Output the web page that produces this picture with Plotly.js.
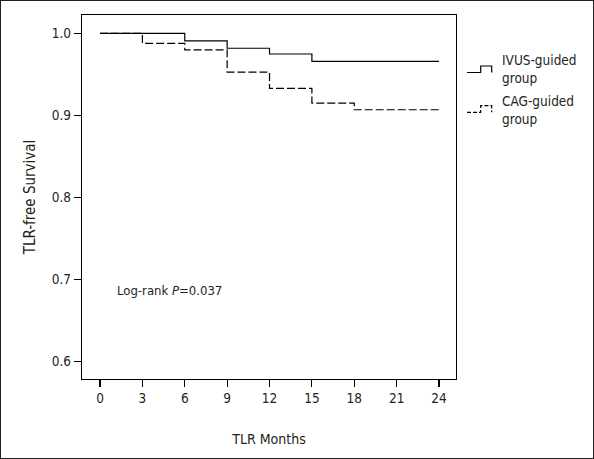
<!DOCTYPE html>
<html><head><meta charset="utf-8">
<script src="https://cdn.plot.ly/plotly-3.0.1.min.js"></script>
<style>
html,body{margin:0;padding:0;background:#fff;}
#chart{width:592px;height:457px;border:1px solid #231f20;}
</style></head>
<body><div id="chart"></div>
<script>
// Kaplan-Meier step data (months, TLR-free survival)
var monthsIVUS = [0, 6, 9, 12, 15, 24];
var survIVUS   = [1.0, 0.991, 0.982, 0.975, 0.966, 0.966];
var monthsCAG  = [0, 3, 6, 9, 12, 15, 18, 24];
var survCAG    = [1.0, 0.988, 0.980, 0.953, 0.933, 0.915, 0.907, 0.907];
var xTicks = [0, 3, 6, 9, 12, 15, 18, 21, 24];
var yTicks = [0.6, 0.7, 0.8, 0.9, 1.0];
var yTickText = ['0.6', '0.7', '0.8', '0.9', '1.0'];
var seriesNames = ['IVUS-guided<br>group', 'CAG-guided<br>group'];

var FONT = '"DejaVu Sans Condensed", "Liberation Sans Narrow", sans-serif';
var TXT = '#231f20';

var W = 592, H = 457, ML = 81, MR = 137, MT = 14, MB = 79;
var PW = W - ML - MR, PH = H - MT - MB;
function px(x){ return (x - ML) / PW; }
function py(y){ return (MT + PH - y) / PH; }

var traces = [
  {x: monthsIVUS, y: survIVUS, mode: 'lines', line: {shape: 'hv', color: '#000', width: 1.2}, name: seriesNames[0], showlegend: false},
  {x: monthsCAG, y: survCAG, mode: 'lines', line: {shape: 'hv', color: '#000', width: 1.2, dash: '8px,3px'}, name: seriesNames[1], showlegend: false}
];

function stepSym(x0, xm, x1, yl, yt, dash){
  var path = 'M' + px(x0) + ',' + py(yl) + ' L' + px(xm) + ',' + py(yl) + ' L' + px(xm) + ',' + py(yt) +
             ' L' + px(x1) + ',' + py(yt) + ' L' + px(x1) + ',' + py(yl);
  return {type: 'path', xref: 'paper', yref: 'paper', path: path,
          line: {color: '#000', width: 1.2, dash: dash}};
}

var layout = {
  width: W, height: H,
  margin: {l: ML, r: MR, t: MT, b: MB},
  paper_bgcolor: '#fff', plot_bgcolor: '#fff',
  font: {family: FONT, size: 13, color: TXT},
  showlegend: false,
  xaxis: {
    range: [-1.274, 25.2], tickvals: xTicks, ticktext: xTicks.map(String),
    ticks: 'outside', ticklen: 7, tickwidth: 1.2, tickcolor: '#000',
    showline: true, linecolor: '#000', linewidth: 1.2, mirror: true,
    showgrid: false, zeroline: false, fixedrange: true,
    tickfont: {family: FONT, size: 13.5, color: TXT},
    title: {text: 'TLR Months', font: {family: FONT, size: 14, color: TXT}, standoff: 28}
  },
  yaxis: {
    range: [0.5789, 1.0225], tickvals: yTicks, ticktext: yTickText,
    ticks: 'outside', ticklen: 7, tickwidth: 1.2, tickcolor: '#000',
    showline: true, linecolor: '#000', linewidth: 1.2, mirror: true,
    showgrid: false, zeroline: false, fixedrange: true,
    tickfont: {family: FONT, size: 13.5, color: TXT},
    title: {text: 'TLR-free Survival', font: {family: FONT, size: 15, color: TXT}, standoff: 12}
  },
  shapes: [
    stepSym(466, 479.7, 490.7, 71.5, 65, 'solid'),
    stepSym(466, 479.7, 490.7, 111.3, 104.7, '4px,2px')
  ],
  annotations: [
    {xref: 'paper', yref: 'paper', x: px(499), y: py(68), xanchor: 'left', yanchor: 'middle', align: 'left',
     text: seriesNames[0], showarrow: false, font: {family: FONT, size: 13.5, color: TXT}},
    {xref: 'paper', yref: 'paper', x: px(499), y: py(109.5), xanchor: 'left', yanchor: 'middle', align: 'left',
     text: seriesNames[1], showarrow: false, font: {family: FONT, size: 13.5, color: TXT}},
    {xref: 'paper', yref: 'paper', x: px(114), y: py(289), xanchor: 'left', yanchor: 'middle',
     text: 'Log-rank <i>P</i>=0.037', showarrow: false, font: {family: FONT, size: 13, color: TXT}}
  ]
};

Plotly.newPlot('chart', traces, layout, {displayModeBar: false, staticPlot: true});
</script></body></html>
